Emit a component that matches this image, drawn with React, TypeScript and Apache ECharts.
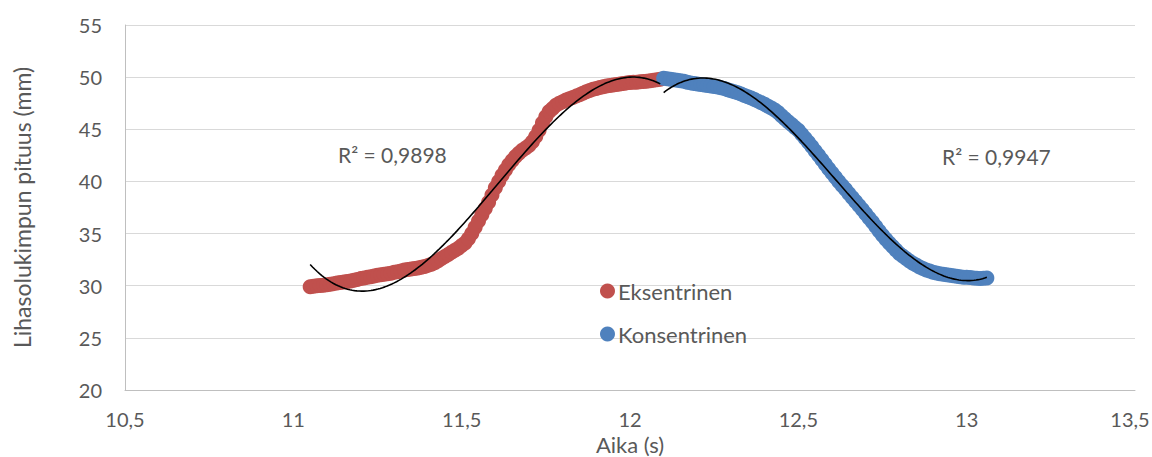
import React, { useEffect, useRef } from "react";
import * as echarts from "echarts";

const X_TICKS_MIN = 10.5;
const X_TICKS_MAX = 13.5;
const X_INTERVAL = 0.5;
const Y_MIN = 20;
const Y_MAX = 55;
const Y_INTERVAL = 5;

const eksX = [
  11.05, 11.06, 11.07, 11.08, 11.09, 11.1, 11.11, 11.12, 11.13, 11.14, 11.15, 11.16, 11.17, 11.18, 11.19,
  11.2, 11.21, 11.22, 11.23, 11.24, 11.25, 11.26, 11.27, 11.28, 11.29, 11.3, 11.31, 11.32, 11.33, 11.34,
  11.35, 11.36, 11.37, 11.38, 11.39, 11.4, 11.41, 11.42, 11.43, 11.44, 11.45, 11.46, 11.47, 11.48, 11.49,
  11.5, 11.51, 11.52, 11.53, 11.54, 11.55, 11.56, 11.57, 11.58, 11.59, 11.6, 11.61, 11.62, 11.63, 11.64,
  11.65, 11.66, 11.67, 11.68, 11.69, 11.7, 11.71, 11.72, 11.73, 11.74, 11.75, 11.76, 11.77, 11.78, 11.79,
  11.8, 11.81, 11.82, 11.83, 11.84, 11.85, 11.86, 11.87, 11.88, 11.89, 11.9, 11.91, 11.92, 11.93, 11.94,
  11.95, 11.96, 11.97, 11.98, 11.99, 12.0, 12.01, 12.02, 12.03, 12.04, 12.05, 12.06, 12.07, 12.08, 12.09,
];
const eksY = [
  29.9, 29.95, 30.0, 30.02, 30.05, 30.1, 30.15, 30.2, 30.25, 30.3, 30.35, 30.4, 30.45, 30.52, 30.6,
  30.68, 30.75, 30.8, 30.85, 30.92, 31.0, 31.05, 31.1, 31.15, 31.2, 31.28, 31.35, 31.42, 31.5, 31.55,
  31.6, 31.65, 31.7, 31.78, 31.85, 31.95, 32.05, 32.2, 32.4, 32.6, 32.8, 33.0, 33.2, 33.4, 33.6,
  33.85, 34.1, 34.5, 35.0, 35.6, 36.2, 36.8, 37.4, 38.0, 38.7, 39.4, 40.0, 40.6, 41.1, 41.6,
  42.0, 42.4, 42.7, 43.0, 43.2, 43.45, 43.8, 44.3, 44.9, 45.6, 46.2, 46.7, 47.0, 47.3, 47.5,
  47.65, 47.8, 47.92, 48.05, 48.18, 48.3, 48.45, 48.6, 48.72, 48.85, 48.92, 49.0, 49.08, 49.15, 49.2,
  49.25, 49.3, 49.35, 49.4, 49.45, 49.48, 49.5, 49.52, 49.55, 49.58, 49.6, 49.65, 49.7, 49.75, 49.8,
];

const konX = [
  12.1, 12.11, 12.12, 12.13, 12.14, 12.15, 12.16, 12.17, 12.18, 12.19, 12.2, 12.21, 12.22, 12.23, 12.24,
  12.25, 12.26, 12.27, 12.28, 12.29, 12.3, 12.31, 12.32, 12.33, 12.34, 12.35, 12.36, 12.37, 12.38, 12.39,
  12.4, 12.41, 12.42, 12.43, 12.44, 12.45, 12.46, 12.47, 12.48, 12.49, 12.5, 12.51, 12.52, 12.53, 12.54,
  12.55, 12.56, 12.57, 12.58, 12.59, 12.6, 12.61, 12.62, 12.63, 12.64, 12.65, 12.66, 12.67, 12.68, 12.69,
  12.7, 12.71, 12.72, 12.73, 12.74, 12.75, 12.76, 12.77, 12.78, 12.79, 12.8, 12.81, 12.82, 12.83, 12.84,
  12.85, 12.86, 12.87, 12.88, 12.89, 12.9, 12.91, 12.92, 12.93, 12.94, 12.95, 12.96, 12.97, 12.98, 12.99,
  13.0, 13.01, 13.02, 13.03, 13.04, 13.05, 13.06,
];
const konY = [
  49.9, 49.85, 49.8, 49.75, 49.7, 49.65, 49.6, 49.52, 49.45, 49.4, 49.35, 49.3, 49.25, 49.2, 49.15,
  49.1, 49.05, 48.98, 48.9, 48.8, 48.7, 48.6, 48.5, 48.38, 48.25, 48.12, 48.0, 47.85, 47.7, 47.55,
  47.4, 47.22, 47.05, 46.85, 46.6, 46.3, 46.0, 45.72, 45.45, 45.18, 44.9, 44.52, 44.15, 43.75, 43.35,
  42.92, 42.5, 42.08, 41.65, 41.22, 40.8, 40.4, 40.0, 39.62, 39.25, 38.85, 38.45, 38.08, 37.7, 37.3,
  36.9, 36.5, 36.1, 35.68, 35.25, 34.85, 34.45, 34.1, 33.75, 33.42, 33.1, 32.85, 32.6, 32.38, 32.15,
  31.98, 31.8, 31.65, 31.5, 31.4, 31.3, 31.22, 31.15, 31.1, 31.05, 31.0, 30.95, 30.9, 30.85, 30.82,
  30.8, 30.78, 30.75, 30.72, 30.7, 30.72, 30.75,
];

const seriesNames = ["Eksentrinen", "Konsentrinen"];
const r2Labels = ["R² = 0,9898", "R² = 0,9947"];

const RED = "#C0504D";
const BLUE = "#4F81BD";
const TEXT = "#595959";
const FONT = "Lato";

function cubicFit(xs: number[], ys: number[]) {
  const n = xs.length;
  const xm = xs.reduce((a, b) => a + b, 0) / n;
  const A: number[][] = [0, 1, 2, 3].map(() => [0, 0, 0, 0]);
  const b = [0, 0, 0, 0];
  for (let i = 0; i < n; i++) {
    const t = xs[i] - xm;
    for (let r = 0; r < 4; r++) {
      for (let c = 0; c < 4; c++) A[r][c] += Math.pow(t, r + c);
      b[r] += ys[i] * Math.pow(t, r);
    }
  }
  const M = A.map((row, i) => [...row, b[i]]);
  for (let col = 0; col < 4; col++) {
    let piv = col;
    for (let r = col + 1; r < 4; r++) if (Math.abs(M[r][col]) > Math.abs(M[piv][col])) piv = r;
    [M[col], M[piv]] = [M[piv], M[col]];
    for (let r = 0; r < 4; r++) {
      if (r === col) continue;
      const f = M[r][col] / M[col][col];
      for (let c = col; c < 5; c++) M[r][c] -= f * M[col][c];
    }
  }
  const coef = M.map((row, i) => row[4] / row[i]);
  return (x: number) => {
    const t = x - xm;
    return coef[0] + coef[1] * t + coef[2] * t * t + coef[3] * t * t * t;
  };
}

function trendPoints(xs: number[], ys: number[]) {
  const f = cubicFit(xs, ys);
  const a = xs[0];
  const z = xs[xs.length - 1];
  const pts: number[][] = [];
  const N = 150;
  for (let i = 0; i <= N; i++) {
    const x = a + ((z - a) * i) / N;
    pts.push([x, f(x)]);
  }
  return pts;
}

export default function App() {
  const ref = useRef<HTMLDivElement>(null);
  useEffect(() => {
    if (!ref.current) return;
    const chart = echarts.init(ref.current, undefined, { renderer: "svg" });
    const fmt = (v: number) => String(v).replace(".", ",");
    const fmtX = (v: number) => (v === X_TICKS_MAX ? `{last|${fmt(v)}}` : fmt(v));
    chart.setOption({
      animation: false,
      backgroundColor: "#ffffff",
      grid: { left: 125, right: 17, top: 25, bottom: 67, containLabel: false, outerBoundsMode: "none" },
      xAxis: {
        type: "value",
        min: X_TICKS_MIN,
        max: X_TICKS_MAX,
        interval: X_INTERVAL,
        name: "Aika (s)",
        nameLocation: "middle",
        nameGap: 42,
        nameTextStyle: { color: TEXT, fontFamily: FONT, fontSize: 22 },
        axisLine: { show: true, lineStyle: { color: "#BFBFBF", width: 1 } },
        axisTick: { show: false },
        splitLine: { show: false },
        axisLabel: {
          color: TEXT,
          fontFamily: FONT,
          fontSize: 20,
          margin: 19,
          formatter: fmtX,
          rich: {
            last: { color: TEXT, fontFamily: FONT, fontSize: 20, padding: [0, 10, 0, 0] },
          },
        },
      },
      yAxis: {
        type: "value",
        min: Y_MIN,
        max: Y_MAX,
        interval: Y_INTERVAL,
        name: "Lihasolukimpun pituus (mm)",
        nameLocation: "middle",
        nameGap: 92,
        nameTextStyle: { color: TEXT, fontFamily: FONT, fontSize: 23 },
        axisLine: { show: true, lineStyle: { color: "#BFBFBF", width: 1 } },
        axisTick: { show: false },
        splitLine: { show: true, lineStyle: { color: "#D9D9D9", width: 1 } },
        axisLabel: { color: TEXT, fontFamily: FONT, fontSize: 20, margin: 23, formatter: fmt },
      },
      legend: {
        data: seriesNames,
        orient: "vertical",
        left: 600,
        top: 279,
        padding: 0,
        itemWidth: 15,
        itemHeight: 15,
        itemGap: 19,
        icon: "circle",
        textStyle: { color: TEXT, fontFamily: FONT, fontSize: 22, lineHeight: 24, padding: [0, 0, 0, -2] },
      },
      graphic: [
        {
          type: "text",
          left: 338,
          top: 144,
          style: { text: r2Labels[0], fill: TEXT, font: `21px ${FONT}` },
        },
        {
          type: "text",
          left: 942,
          top: 146,
          style: { text: r2Labels[1], fill: TEXT, font: `21px ${FONT}` },
        },
      ],
      series: [
        {
          name: seriesNames[0],
          type: "scatter",
          symbolSize: 15,
          itemStyle: { color: RED, opacity: 1 },
          data: eksX.map((x, i) => [x, eksY[i]]),
          z: 2,
        },
        {
          name: seriesNames[1],
          type: "scatter",
          symbolSize: 15,
          itemStyle: { color: BLUE, opacity: 1 },
          data: konX.map((x, i) => [x, konY[i]]),
          z: 2,
        },
        {
          name: "trend1",
          type: "line",
          showSymbol: false,
          symbol: "none",
          lineStyle: { color: "#000000", width: 1.6 },
          data: trendPoints(eksX, eksY),
          z: 5,
        },
        {
          name: "trend2",
          type: "line",
          showSymbol: false,
          symbol: "none",
          lineStyle: { color: "#000000", width: 1.6 },
          data: trendPoints(konX, konY),
          z: 5,
        },
      ],
    });
    return () => chart.dispose();
  }, []);
  return (
    <div
      ref={ref}
      style={{ position: "fixed", left: 0, top: 0, width: 1152, height: 457, background: "#fff" }}
    />
  );
}
